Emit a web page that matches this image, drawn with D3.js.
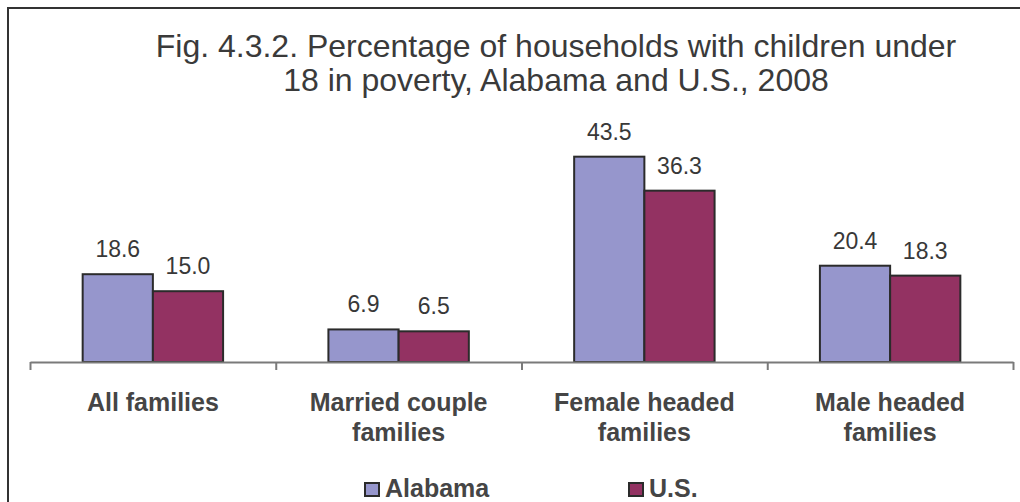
<!DOCTYPE html>
<html>
<head>
<meta charset="utf-8">
<script src="https://cdn.jsdelivr.net/npm/d3@7"></script>
<style>
  body { margin: 0; background: #fff; }
  svg { display: block; font-family: "Liberation Sans", Arial, sans-serif; }
</style>
</head>
<body>
<div id="chart"></div>
<script>
var categories = ["All families", "Married couple families", "Female headed families", "Male headed families"];
var categoryLines = [["All families"], ["Married couple", "families"], ["Female headed", "families"], ["Male headed", "families"]];
var seriesNames = ["Alabama", "U.S."];
var alabama = [18.6, 6.9, 43.5, 20.4];
var us = [15.0, 6.5, 36.3, 18.3];
var titleLines = ["Fig. 4.3.2. Percentage of households with children under", "18 in poverty, Alabama and U.S., 2008"];

var width = 1020, height = 502;
var colors = {"Alabama": "#9696cc", "U.S.": "#933262"};

var svg = d3.select('#chart')
    .append('svg')
    .attr('width', width)
    .attr('height', height);

// frame (only top and left edges show in the original)
svg.append('path')
    .attr('d', 'M8,' + height + 'V8H' + width)
    .style('fill', 'none')
    .style('stroke', '#333')
    .style('stroke-width', 2);

// title
svg.append('text')
    .attr('x', 556)
    .attr('y', 57)
    .attr('text-anchor', 'middle')
    .style('font-size', '32px')
    .style('fill', '#3a3a3a')
    .selectAll('tspan')
    .data(titleLines)
    .enter().append('tspan')
    .attr('x', 556)
    .attr('dy', function (d, i) { return i === 0 ? 0 : 34; })
    .text(function (d) { return d; });

var plotLeft = 30, plotRight = 1013, baseY = 362;

var x0 = d3.scaleBand()
    .domain(categories)
    .range([plotLeft, plotRight])
    .padding(0);

var x1 = d3.scaleBand()
    .domain(seriesNames)
    .range([0, x0.bandwidth()])
    .paddingInner(0)
    .paddingOuter(0.75);

var y = d3.scaleLinear()
    .domain([0, 50])
    .range([baseY, baseY - 236]);

var rows = categories.map(function (c, i) {
    return {category: c, values: [
        {name: "Alabama", value: alabama[i]},
        {name: "U.S.", value: us[i]}
    ]};
});

// bars
var groups = svg.selectAll('.cat').data(rows)
    .enter().append('g')
    .attr('class', 'cat')
    .attr('transform', function (d) { return 'translate(' + x0(d.category) + ',0)'; });

groups.selectAll('rect').data(function (d) { return d.values; })
    .enter().append('rect')
    .attr('x', function (d) { return x1(d.name); })
    .attr('y', function (d) { return y(d.value); })
    .attr('width', x1.bandwidth())
    .attr('height', function (d) { return y(0) - y(d.value); })
    .style('fill', function (d) { return colors[d.name]; })
    .style('stroke', '#2b2b2b')
    .style('stroke-width', 2);

groups.selectAll('text.val').data(function (d) { return d.values; })
    .enter().append('text')
    .attr('class', 'val')
    .attr('x', function (d) { return x1(d.name) + x1.bandwidth() / 2; })
    .attr('y', function (d) { return y(d.value) - 17; })
    .attr('text-anchor', 'middle')
    .style('font-size', '23px')
    .style('fill', '#383838')
    .text(function (d) { return d.value.toFixed(1); });

// category axis with ticks on the band edges
var xEdge = d3.scaleLinear().domain([0, categories.length]).range([plotLeft, plotRight]);
var axis = svg.append('g')
    .attr('transform', 'translate(0,' + baseY + ')')
    .call(d3.axisBottom(xEdge).ticks(categories.length).tickSize(8).tickSizeOuter(0).tickFormat(''));
axis.selectAll('path, line').style('stroke', '#7a7a7a').style('stroke-width', 2);

var labels = svg.selectAll('.catlabel').data(categories)
    .enter().append('text')
    .attr('class', 'catlabel')
    .attr('text-anchor', 'middle')
    .attr('y', 411)
    .style('font-size', '25px')
    .style('font-weight', 'bold')
    .style('fill', '#454545');
labels.selectAll('tspan').data(function (d, i) {
        return categoryLines[i].map(function (l) { return {line: l, cx: x0(d) + x0.bandwidth() / 2}; });
    })
    .enter().append('tspan')
    .attr('x', function (d) { return d.cx; })
    .attr('dy', function (d, i) { return i === 0 ? 0 : 30; })
    .text(function (d) { return d.line; });

// legend
var legendX = [365, 629];
var legend = svg.selectAll('.legend').data(seriesNames)
    .enter().append('g')
    .attr('class', 'legend')
    .attr('transform', function (d, i) { return 'translate(' + legendX[i] + ',483)'; });
legend.append('rect')
    .attr('width', 14)
    .attr('height', 13)
    .style('fill', function (d) { return colors[d]; })
    .style('stroke', '#2b2b2b')
    .style('stroke-width', 2);
legend.append('text')
    .attr('x', 20)
    .attr('y', 14)
    .style('font-size', '25px')
    .style('font-weight', 'bold')
    .style('fill', '#454545')
    .text(function (d) { return d; });
</script>
</body>
</html>
